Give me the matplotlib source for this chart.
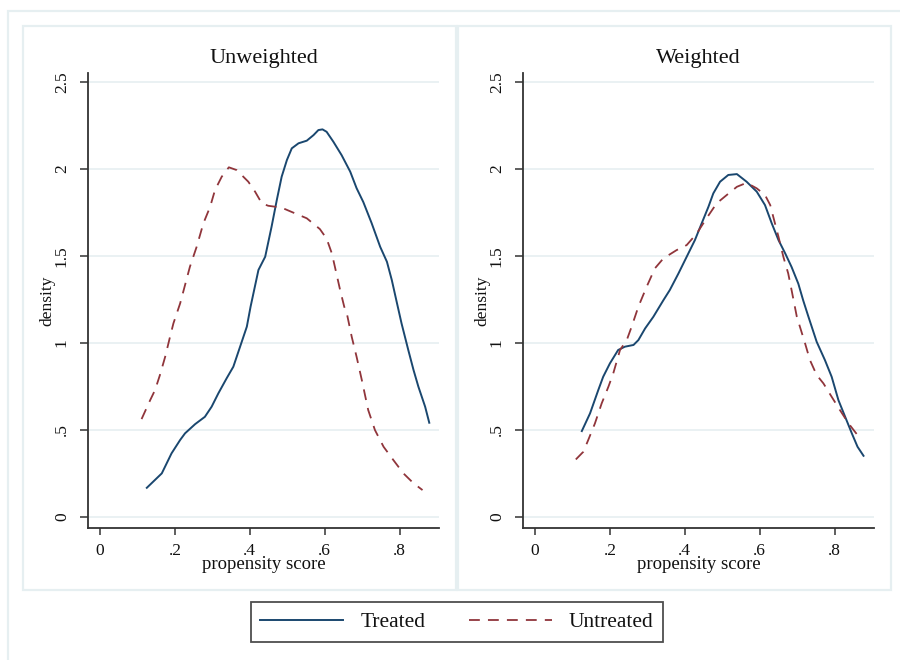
import matplotlib
matplotlib.use('Agg')
import matplotlib.pyplot as plt
from matplotlib.patches import Rectangle

plt.rcParams['font.family'] = ['Liberation Serif', 'DejaVu Serif']

# Unweighted panel
unw_treated_x = [0.125, 0.165, 0.191, 0.214, 0.227, 0.254, 0.280, 0.298, 0.316, 0.338, 0.356, 0.374,
                 0.392, 0.402, 0.423, 0.441, 0.458, 0.472, 0.485, 0.499, 0.512, 0.530, 0.552, 0.570,
                 0.583, 0.594, 0.605, 0.623, 0.645, 0.668, 0.685, 0.703, 0.725, 0.748, 0.766, 0.779,
                 0.792, 0.805, 0.823, 0.837, 0.850, 0.868, 0.879]
unw_treated_y = [0.168, 0.251, 0.366, 0.443, 0.481, 0.534, 0.576, 0.634, 0.711, 0.797, 0.864, 0.979,
                 1.094, 1.209, 1.42, 1.496, 1.668, 1.822, 1.956, 2.052, 2.119, 2.148, 2.163, 2.195,
                 2.224, 2.228, 2.214, 2.157, 2.080, 1.985, 1.89, 1.81, 1.69, 1.553, 1.467, 1.362,
                 1.237, 1.113, 0.96, 0.845, 0.749, 0.634, 0.542]
unw_untreated_x = [0.111, 0.134, 0.147, 0.160, 0.174, 0.187, 0.196, 0.214, 0.240, 0.258, 0.276, 0.294,
                   0.307, 0.325, 0.344, 0.365, 0.396, 0.414, 0.432, 0.449, 0.485, 0.521, 0.552, 0.587,
                   0.605, 0.619, 0.629, 0.641, 0.652, 0.659, 0.672, 0.685, 0.699, 0.716, 0.734, 0.757,
                   0.783, 0.810, 0.837, 0.861]
unw_untreated_y = [0.563, 0.672, 0.73, 0.816, 0.921, 1.036, 1.113, 1.228, 1.438, 1.553, 1.688, 1.783,
                   1.879, 1.956, 2.01, 1.994, 1.927, 1.87, 1.803, 1.789, 1.778, 1.745, 1.717, 1.655,
                   1.60, 1.515, 1.42, 1.305, 1.209, 1.17, 1.036, 0.921, 0.787, 0.615, 0.50, 0.404,
                   0.328, 0.251, 0.194, 0.155]

# Weighted panel
w_treated_x = [0.125, 0.147, 0.169, 0.182, 0.200, 0.222, 0.240, 0.263, 0.276, 0.294, 0.316, 0.343,
               0.360, 0.383, 0.405, 0.427, 0.445, 0.463, 0.476, 0.494, 0.516, 0.539, 0.565, 0.592,
               0.614, 0.632, 0.650, 0.668, 0.685, 0.703, 0.716, 0.730, 0.752, 0.774, 0.792, 0.810,
               0.828, 0.846, 0.861, 0.877]
w_treated_y = [0.494, 0.596, 0.73, 0.806, 0.883, 0.96, 0.979, 0.989, 1.017, 1.084, 1.151, 1.247,
               1.305, 1.40, 1.496, 1.592, 1.688, 1.783, 1.86, 1.927, 1.966, 1.971, 1.927, 1.87,
               1.793, 1.688, 1.592, 1.515, 1.437, 1.341, 1.245, 1.151, 1.007, 0.902, 0.806, 0.672,
               0.576, 0.48, 0.404, 0.352]
w_untreated_x = [0.109, 0.129, 0.142, 0.160, 0.178, 0.196, 0.209, 0.227, 0.245, 0.258, 0.276, 0.298,
                 0.320, 0.343, 0.378, 0.405, 0.432, 0.458, 0.485, 0.512, 0.539, 0.565, 0.592, 0.614,
                 0.628, 0.636, 0.650, 0.663, 0.676, 0.685, 0.699, 0.721, 0.734, 0.752, 0.770, 0.792,
                 0.814, 0.837, 0.861]
w_untreated_y = [0.331, 0.375, 0.442, 0.538, 0.653, 0.749, 0.826, 0.96, 1.017, 1.094, 1.209, 1.323,
                 1.429, 1.487, 1.534, 1.563, 1.63, 1.717, 1.803, 1.851, 1.898, 1.921, 1.889, 1.851,
                 1.793, 1.726, 1.611, 1.496, 1.40, 1.304, 1.151, 0.998, 0.902, 0.816, 0.768, 0.691,
                 0.615, 0.538, 0.471]

titles = ['Unweighted', 'Weighted']
x_ticks = [0, 0.2, 0.4, 0.6, 0.8]
x_labels = ['0', '.2', '.4', '.6', '.8']
y_ticks = [0, 0.5, 1, 1.5, 2, 2.5]
y_labels = ['0', '.5', '1', '1.5', '2', '2.5']

navy = '#1a476f'
maroon = '#90353b'
frame_col = '#e6eff1'
txt = '#111111'

W, H = 900, 660
fig = plt.figure(figsize=(9, 6.6), dpi=100)

def px_rect(x0, y0, x1, y1):
    return Rectangle((x0 / W, 1 - y1 / H), (x1 - x0) / W, (y1 - y0) / H,
                     transform=fig.transFigure, fill=False, ec=frame_col, lw=1.6, zorder=0)

fig.patches.append(px_rect(8, 11, 915, 675))
fig.patches.append(px_rect(23, 26, 456, 590))
fig.patches.append(px_rect(458, 26, 891, 590))

panels = [(88, unw_treated_x, unw_treated_y, unw_untreated_x, unw_untreated_y),
          (523, w_treated_x, w_treated_y, w_untreated_x, w_untreated_y)]

handles = None
for i, (left, tx, ty, ux, uy) in enumerate(panels):
    ax = fig.add_axes([left / W, 1 - 528 / H, 351 / W, 455 / H])
    ax.set_xlim(-0.032, 0.905)
    ax.set_ylim(-0.063, 2.552)
    for y in y_ticks:
        ax.axhline(y, color=frame_col, lw=1.2, zorder=0)
    l1, = ax.plot(tx, ty, color=navy, lw=1.4, label='Treated')
    l2, = ax.plot(ux, uy, color=maroon, lw=1.3, dashes=(6, 4.5), label='Untreated')
    handles = [l1, l2]
    for s in ['top', 'right']:
        ax.spines[s].set_visible(False)
    for s in ['left', 'bottom']:
        ax.spines[s].set_color('#333333')
        ax.spines[s].set_linewidth(1.3)
    ax.set_xticks(x_ticks)
    ax.set_xticklabels(x_labels)
    ax.set_yticks(y_ticks)
    ax.set_yticklabels(y_labels, rotation=90, va='center')
    ax.tick_params(axis='x', length=5, width=1.1, color='#333333', pad=6,
                   labelsize=12.5, labelcolor=txt)
    ax.tick_params(axis='y', length=6, width=1.1, color='#333333', pad=7,
                   labelsize=12.5, labelcolor=txt)
    ax.set_title(titles[i], fontsize=16, color=txt, pad=7)
    ax.text(0.5, -0.08, 'propensity score', transform=ax.transAxes,
            ha='center', va='center', fontsize=13.5, color=txt)
    ax.text(-0.117, 0.5, 'density', transform=ax.transAxes, rotation=90,
            ha='center', va='center', fontsize=12.5, color=txt)

leg = fig.legend(handles, ['Treated', 'Untreated'], loc='center',
                 bbox_to_anchor=(457 / W, 1 - 622 / H), ncol=2, fontsize=15.5,
                 frameon=True, fancybox=False, edgecolor='#222222',
                 handlelength=3.85, handletextpad=0.8, columnspacing=2.0,
                 borderpad=0.45, borderaxespad=0)
leg.get_frame().set_linewidth(1.3)
for t in leg.get_texts():
    t.set_color(txt)

fig.savefig('out.png', dpi=100, facecolor='white')
